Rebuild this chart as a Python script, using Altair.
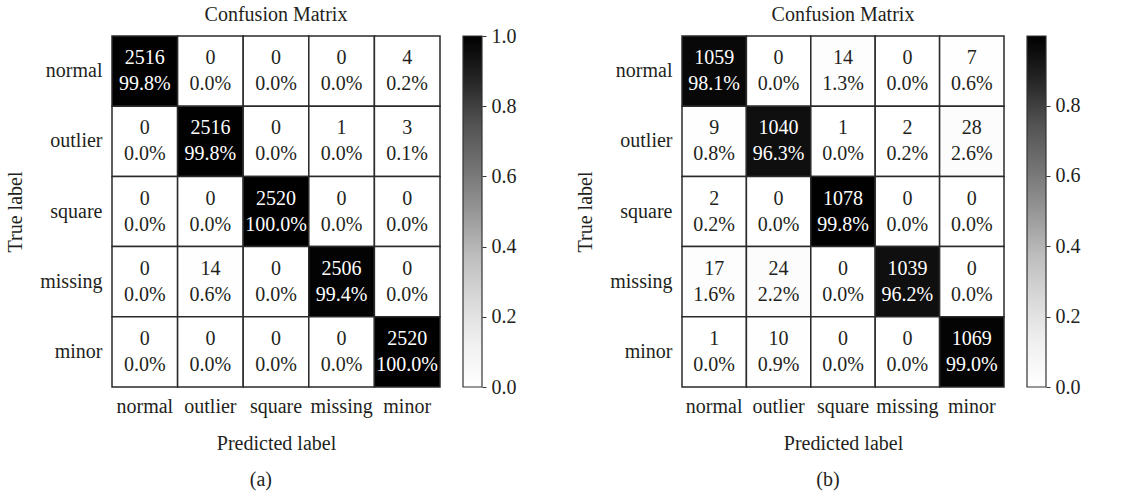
import altair as alt
import pandas as pd

# Class names (rows = true label, columns = predicted label)
labels = ["normal", "outlier", "square", "missing", "minor"]

# Panel (a): sample counts and row-normalised percentages
counts_a = [
    [2516, 0, 0, 0, 4],
    [0, 2516, 0, 1, 3],
    [0, 0, 2520, 0, 0],
    [0, 14, 0, 2506, 0],
    [0, 0, 0, 0, 2520],
]
pct_a = [
    [99.8, 0.0, 0.0, 0.0, 0.2],
    [0.0, 99.8, 0.0, 0.0, 0.1],
    [0.0, 0.0, 100.0, 0.0, 0.0],
    [0.0, 0.6, 0.0, 99.4, 0.0],
    [0.0, 0.0, 0.0, 0.0, 100.0],
]

# Panel (b)
counts_b = [
    [1059, 0, 14, 0, 7],
    [9, 1040, 1, 2, 28],
    [2, 0, 1078, 0, 0],
    [17, 24, 0, 1039, 0],
    [1, 10, 0, 0, 1069],
]
pct_b = [
    [98.1, 0.0, 1.3, 0.0, 0.6],
    [0.8, 96.3, 0.0, 0.2, 2.6],
    [0.2, 0.0, 99.8, 0.0, 0.0],
    [1.6, 2.2, 0.0, 96.2, 0.0],
    [0.0, 0.9, 0.0, 0.0, 99.0],
]

# Colorbar tick values per panel
cbar_ticks_a = [0.0, 0.2, 0.4, 0.6, 0.8, 1.0]
cbar_ticks_b = [0.0, 0.2, 0.4, 0.6, 0.8]

# ColorBrewer "Greys" anchors (white -> black)
greys = ["#ffffff", "#f0f0f0", "#d9d9d9", "#bdbdbd", "#969696",
         "#737373", "#525252", "#252525", "#000000"]

FONT = "Liberation Serif"
FS = 20
CELL_FS = 20
INK = "#231f20"


def frame(counts, pct):
    rows = []
    for i, t in enumerate(labels):
        for j, p in enumerate(labels):
            rows.append({
                "true": t, "pred": p, "v": pct[i][j] / 100.0,
                "txt": f"{counts[i][j]}\n{pct[i][j]:.1f}%",
            })
    return pd.DataFrame(rows)


def panel(counts, pct, ticks, cell_w, tag):
    df = frame(counts, pct)
    vmax = max(max(r) for r in pct) / 100.0
    n = len(greys) - 1
    dom = [vmax * k / n for k in range(n + 1)]
    cscale = alt.Scale(domain=dom, range=greys, clamp=True)

    base = alt.Chart(df).encode(
        x=alt.X("pred:N", sort=labels, scale=alt.Scale(paddingInner=0, paddingOuter=0),
                axis=alt.Axis(title="Predicted label", labelAngle=0, ticks=False,
                              domain=False, labelPadding=9, titlePadding=17)),
        y=alt.Y("true:N", sort=labels, scale=alt.Scale(paddingInner=0, paddingOuter=0),
                axis=alt.Axis(title="True label", ticks=False, domain=False,
                              labelPadding=10, titlePadding=14)),
    )
    cells = base.mark_rect(stroke="#2a2a2a", strokeWidth=1.5).encode(
        color=alt.Color("v:Q", scale=cscale, legend=None)
    )
    text = base.mark_text(font=FONT, fontSize=CELL_FS, lineBreak="\n", lineHeight=26,
                          baseline="middle", dy=-13).encode(
        text="txt:N",
        color=alt.condition(alt.datum.v > 0.5, alt.value("#ffffff"), alt.value(INK)),
    )
    heat = alt.layer(cells, text).properties(
        width=cell_w, height=351,
        title=alt.TitleParams("Confusion Matrix", font=FONT, fontSize=FS,
                              fontWeight="normal", color=INK, anchor="middle", offset=10),
    )

    # Colorbar: one rect spanning [0, vmax] on its own quantitative axis
    stops = [alt.GradientStop(offset=k / n, color=c) for k, c in enumerate(greys)]
    grad = alt.LinearGradient(gradient="linear", stops=stops, x1=0, x2=0, y1=1, y2=0)
    cb_df = pd.DataFrame({"lo": [0.0], "hi": [vmax]})
    cbar = alt.Chart(cb_df).mark_rect(fill=grad, stroke="#333", strokeWidth=1.2).encode(
        y=alt.Y("lo:Q", scale=alt.Scale(domain=[0, vmax], nice=False, zero=True),
                axis=alt.Axis(orient="right", values=ticks, format=".1f", title=None,
                              domain=False, ticks=True, tickSize=4, tickColor="#333",
                              labelPadding=5, grid=False)),
        y2="hi:Q",
        x=alt.value(0),
        x2=alt.value(19),
    ).properties(width=19, height=351)

    return alt.hconcat(heat, cbar, spacing=21).properties(
        title=alt.TitleParams(tag, orient="bottom", anchor="middle", font=FONT,
                              fontSize=FS, fontWeight="normal", color=INK, offset=17)
    )


left = panel(counts_a, pct_a, cbar_ticks_a, 328, "(a)")
right = panel(counts_b, pct_b, cbar_ticks_b, 322, "(b)")

chart = alt.hconcat(left, right, spacing=59).configure(
    padding={"left": 5, "top": 5, "right": 5, "bottom": 2},
    background="white",
).configure_view(stroke=None).configure_axis(
    labelFont=FONT, labelFontSize=FS, labelColor=INK,
    titleFont=FONT, titleFontSize=FS, titleFontWeight="normal", titleColor=INK,
)

chart.save("out.html", embed_options={"renderer": "svg", "actions": False})
